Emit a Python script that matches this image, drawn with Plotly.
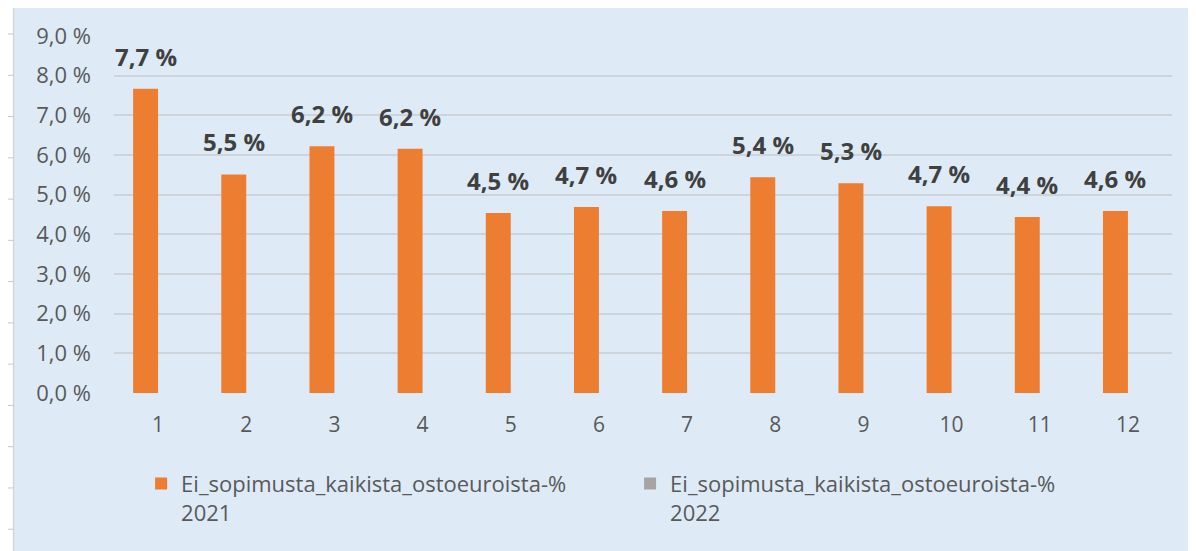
import plotly.graph_objects as go

months = list(range(1, 13))
month_labels = [str(m) for m in months]
values_2021 = [7.67, 5.51, 6.22, 6.16, 4.54, 4.69, 4.59, 5.44, 5.29, 4.71, 4.44, 4.59]
values_2022 = [None] * 12
series_names = ["Ei_sopimusta_kaikista_ostoeuroista-%<br>2021",
                "Ei_sopimusta_kaikista_ostoeuroista-%<br>2022"]
y_ticks = [0, 1, 2, 3, 4, 5, 6, 7, 8, 9]
y_tick_labels = [f"{v:.1f}".replace(".", ",") + " %" for v in y_ticks]

# page body has an 8px default margin; work in absolute page pixels
OFF = 8
W, H = 1196 - OFF, 551 - OFF
PLOT_L, PLOT_R, PLOT_T, PLOT_B = 113.9, 1172, 34, 393
ML, MR, MT, MB = PLOT_L - OFF, W - (PLOT_R - OFF), PLOT_T - OFF, H - (PLOT_B - OFF)
PW, PH = W - ML - MR, H - MT - MB


def px(x_abs):
    return (x_abs - OFF - ML) / PW


def py(y_abs):
    return 1 - (y_abs - OFF - MT) / PH


BG = "#DEEBF7"
FONT = "Open Sans"
BAR_W = 0.283

fig = go.Figure()
fig.add_trace(go.Bar(x=months, y=values_2021, name=series_names[0],
                     marker=dict(color="#ED7D31", line=dict(width=0)),
                     width=BAR_W, offset=-BAR_W))
fig.add_trace(go.Bar(x=months, y=values_2022, name=series_names[1],
                     marker=dict(color="#A5A5A5", line=dict(width=0)),
                     width=BAR_W, offset=0))

for m, v in zip(months, values_2021):
    fig.add_annotation(x=m - BAR_W / 2, y=v, text="<b>" + f"{v:.1f}".replace(".", ",") + " %</b>",
                       showarrow=False, yanchor="bottom", yshift=14,
                       font=dict(family=FONT, size=24, color="#404040"))

shapes = [
    dict(type="rect", xref="paper", yref="paper", x0=px(0), x1=px(14), y0=py(600), y1=py(0),
         fillcolor="white", line=dict(width=0), layer="below"),
    dict(type="line", xref="paper", yref="paper", x0=px(13.5), x1=px(13.5), y0=py(600), y1=py(6),
         line=dict(color="#D4D4D4", width=1.5)),
]
k = 0
while 32 + 41.5 * k < 551:
    yy = 32 + 41.5 * k
    shapes.append(dict(type="line", xref="paper", yref="paper", x0=px(7), x1=px(13), y0=py(yy), y1=py(yy),
                       line=dict(color="#C8C8C8", width=1)))
    k += 1

fig.update_layout(
    width=W, height=H,
    margin=dict(l=ML, r=MR, t=MT, b=MB, pad=0),
    paper_bgcolor=BG, plot_bgcolor=BG,
    barmode="overlay",
    showlegend=True,
    legend=dict(orientation="h", x=px(141), y=py(463), xanchor="left", yanchor="top",
                entrywidth=444, entrywidthmode="pixels", valign="top",
                itemwidth=30, tracegroupgap=0,
                font=dict(family=FONT, size=22, color="#595959"),
                bgcolor="rgba(0,0,0,0)"),
    shapes=shapes,
    font=dict(family=FONT, color="#595959"),
)
fig.update_xaxes(range=[0.5, 12.5], tickvals=months, ticktext=month_labels,
                 showgrid=False, zeroline=False, showline=False, ticks="",
                 tickfont=dict(family=FONT, size=21, color="#595959"), ticklabelstandoff=17)
fig.update_yaxes(range=[0, 9], tickvals=y_ticks, ticktext=y_tick_labels,
                 showgrid=True, gridcolor="#CDD4DB", gridwidth=1.5, zeroline=False, showline=False,
                 ticks="", tickfont=dict(family=FONT, size=22, color="#595959"), ticklabelstandoff=22)

fig.write_html("out.html")
